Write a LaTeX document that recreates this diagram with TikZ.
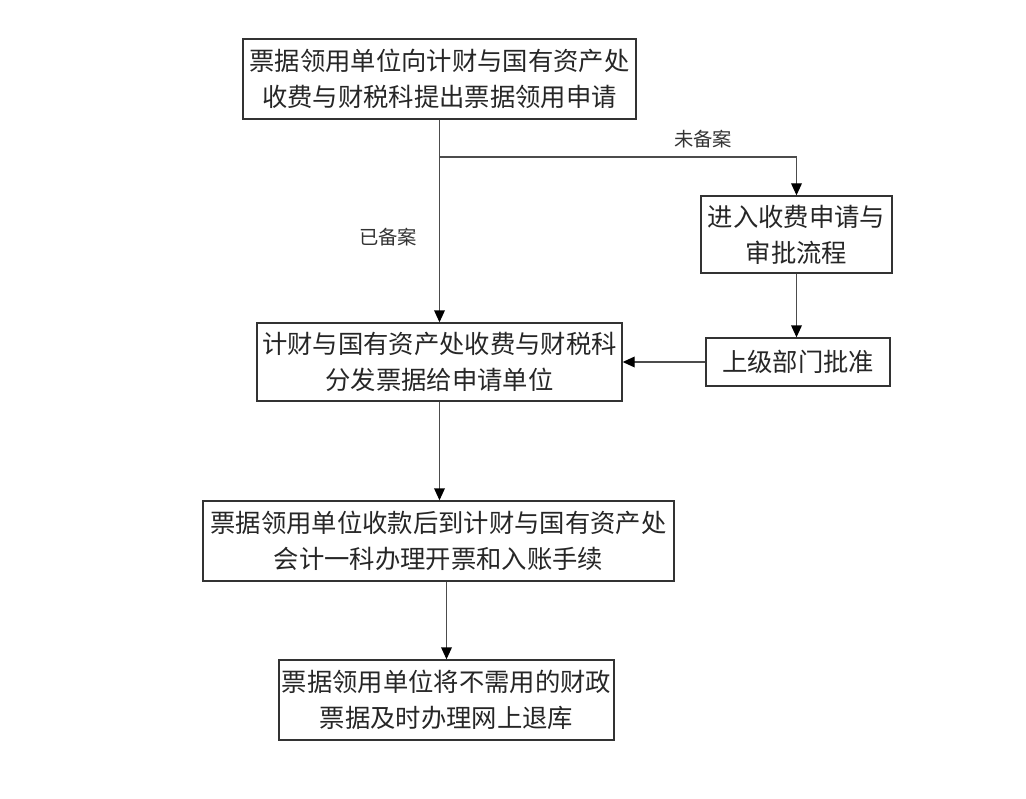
\documentclass[tikz,border=0pt]{standalone}
\usepackage{fontspec}
\setmainfont{Noto Sans CJK SC}
\usetikzlibrary{arrows.meta}
\begin{document}
\begin{tikzpicture}[x=0.75pt,y=-0.75pt,
  box/.style={draw=black!80,line width=1pt,align=center,inner sep=0pt,font=\fontsize{19}{27}\selectfont,text=black!85},
  lbl/.style={font=\fontsize{14.5}{16}\selectfont,text=black!80},
  conn/.style={draw=black!70,line width=1pt},
  arr/.style={conn,-{Triangle[length=9pt,width=8pt,color=black]}}]
\useasboundingbox (0,0) rectangle (1026,799);
\node[box,minimum width=393*0.75pt,minimum height=80*0.75pt] (b1) at (439.5,79) {票据领用单位向计财与国有资产处\\收费与财税科提出票据领用申请};
\node[box,minimum width=191*0.75pt,minimum height=77*0.75pt] (b2) at (796.5,234.5) {进入收费申请与\\审批流程};
\node[box,minimum width=365*0.75pt,minimum height=78*0.75pt] (b3) at (439.5,362) {计财与国有资产处收费与财税科\\分发票据给申请单位};
\node[box,minimum width=184*0.75pt,minimum height=48*0.75pt] (b4) at (798,362) {上级部门批准};
\node[box,minimum width=471*0.75pt,minimum height=80*0.75pt] (b5) at (438.5,541) {票据领用单位收款后到计财与国有资产处\\会计一科办理开票和入账手续};
\node[box,minimum width=335*0.75pt,minimum height=80*0.75pt] (b6) at (446.5,700) {票据领用单位将不需用的财政\\票据及时办理网上退库};
\coordinate (br) at (439.5,157);
\node[lbl] (l1) at (703,139) {未备案};
\node[lbl] (l2) at (388,237) {已备案};
\draw[arr] (b1.south) -- (b3.north);
\draw[arr] (br) -| (b2.north);
\draw[arr] (b2.south) -- (b2.south |- b4.north);
\draw[arr] (b4.west) -- (b3.east);
\draw[arr] (b3.south) -- (b3.south |- b5.north);
\draw[arr] (b5.south -| b6.north) -- (b6.north);
\end{tikzpicture}
\end{document}
